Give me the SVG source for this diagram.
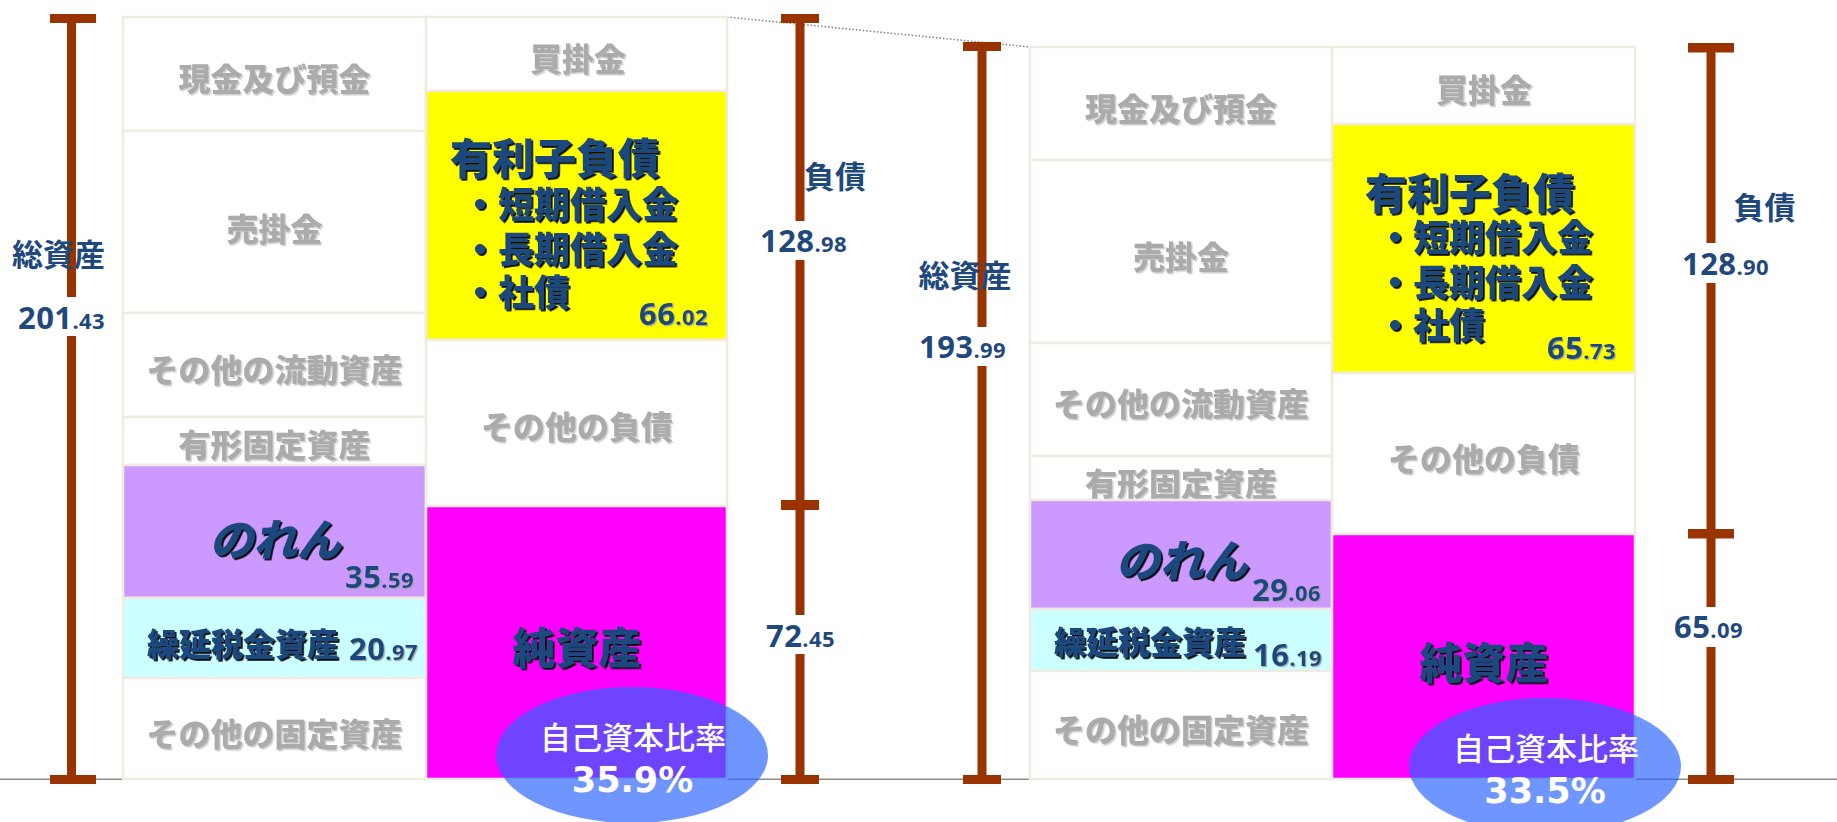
<svg xmlns="http://www.w3.org/2000/svg" width="1837" height="822" viewBox="0 0 1837 822">
<style>
.cell{stroke:#EEECE1;stroke-width:2.5}
.w{fill:#FFFFFF}
.gw{fill:#CC99FF}
.dt{fill:#CCFFFF}
.ib{fill:#FFFF00}
.eq{fill:#FF00FF}
.bar{fill:#993300}
.lbl{font-family:"Noto Sans CJK JP","Noto Sans",sans-serif;font-weight:900;font-size:32px;fill:#ABABAB;text-anchor:middle;dominant-baseline:central}
.key{font-family:"Noto Sans CJK JP","Noto Sans",sans-serif;font-weight:900;fill:#1F497D;dominant-baseline:central}
.num{font-family:"Open Sans",Lato,sans-serif;font-weight:700;fill:#1F497D;font-size:31px;letter-spacing:0.4px}
.dec{font-size:22px}
.ttl{font-family:"Noto Sans CJK JP","Noto Sans",sans-serif;font-weight:700;font-size:31px;fill:#1F497D;text-anchor:middle;dominant-baseline:central}
.ell{fill:rgb(43,100,255);fill-opacity:0.68}
.rt{font-family:"Noto Sans CJK JP","Noto Sans",sans-serif;font-weight:500;font-size:31px;fill:#FFFFFF;text-anchor:middle;dominant-baseline:central}
.rp{font-family:"DejaVu Sans","Noto Sans",sans-serif;font-weight:700;font-size:35px;fill:#FFFFFF;text-anchor:middle}
</style>
<defs>
<filter id="shd" x="-10%" y="-20%" width="130%" height="150%"><feDropShadow dx="1.8" dy="1.8" stdDeviation="0.4" flood-color="#000000" flood-opacity="0.95"/></filter>
<filter id="shg" x="-10%" y="-20%" width="130%" height="150%"><feDropShadow dx="1.5" dy="1.5" stdDeviation="0.6" flood-color="#CFCFCF" flood-opacity="1"/></filter>
<filter id="shn" x="-10%" y="-20%" width="130%" height="150%"><feDropShadow dx="1.2" dy="1.2" stdDeviation="0.5" flood-color="#A0A0A0" flood-opacity="0.9"/></filter>
</defs>
<rect width="1837" height="822" fill="#FFFFFF"/>

<g id="connectors">
<line x1="727" y1="17" x2="1030" y2="47" stroke="#808080" stroke-width="1.5" stroke-dasharray="1.5 2"/>
<line x1="0" y1="779.3" x2="1837" y2="779.3" stroke="#8C8C8C" stroke-width="1.6"/>
</g>

<!-- Left balance sheet -->
<g id="left-genkin"><rect class="cell w" x="123" y="17" width="303" height="114"/><text class="lbl" x="274.5" y="77" filter="url(#shg)">現金及び預金</text></g>
<g id="left-urikake"><rect class="cell w" x="123" y="131" width="303" height="182"/><text class="lbl" x="274.5" y="227" filter="url(#shg)">売掛金</text></g>
<g id="left-ryudo"><rect class="cell w" x="123" y="313" width="303" height="104"/><text class="lbl" x="274.5" y="368" filter="url(#shg)">その他の流動資産</text></g>
<g id="left-yukei"><rect class="cell w" x="123" y="417" width="303" height="48"/><text class="lbl" x="274.5" y="443" filter="url(#shg)">有形固定資産</text></g>
<g id="left-noren"><rect class="cell gw" x="123" y="465" width="303" height="133"/><text class="key" x="275" y="537" font-size="44" font-style="italic" text-anchor="middle" filter="url(#shd)">のれん</text><text class="num" x="345" y="588" filter="url(#shn)">35<tspan class="dec">.59</tspan></text></g>
<g id="left-kurinobe"><rect class="cell dt" x="123" y="598" width="303" height="80"/><text class="key" x="243" y="642" font-size="32" text-anchor="middle" filter="url(#shd)">繰延税金資産</text><text class="num" x="349" y="660" filter="url(#shn)">20<tspan class="dec">.97</tspan></text></g>
<g id="left-kotei"><rect class="cell w" x="123" y="678" width="303" height="101"/><text class="lbl" x="274.5" y="732" filter="url(#shg)">その他の固定資産</text></g>

<g id="left-kaikake"><rect class="cell w" x="426" y="17" width="301" height="74"/><text class="lbl" x="578" y="57" filter="url(#shg)">買掛金</text></g>
<g id="left-yurishi"><rect class="cell ib" x="426" y="91" width="301" height="249"/>
<text class="key" x="450" y="155" font-size="42" filter="url(#shd)">有利子負債</text>
<text class="key" x="462" y="201.7" font-size="36" filter="url(#shd)">・短期借入金</text>
<text class="key" x="462" y="246.7" font-size="36" filter="url(#shd)">・長期借入金</text>
<text class="key" x="462" y="290" font-size="36" filter="url(#shd)">・社債</text>
<text class="num" x="639" y="325" filter="url(#shn)">66<tspan class="dec">.02</tspan></text></g>
<g id="left-sonota-fusai"><rect class="cell w" x="426" y="340" width="301" height="166"/><text class="lbl" x="577" y="425" filter="url(#shg)">その他の負債</text></g>
<g id="left-junshisan"><rect class="cell eq" x="426" y="506" width="301" height="273"/><text class="key" x="577" y="645" font-size="43" text-anchor="middle" filter="url(#shd)">純資産</text></g>

<!-- Right balance sheet -->
<g id="right-genkin"><rect class="cell w" x="1030" y="47" width="302" height="113"/><text class="lbl" x="1181" y="106.7" filter="url(#shg)">現金及び預金</text></g>
<g id="right-urikake"><rect class="cell w" x="1030" y="160" width="302" height="183"/><text class="lbl" x="1181" y="255" filter="url(#shg)">売掛金</text></g>
<g id="right-ryudo"><rect class="cell w" x="1030" y="343" width="302" height="113"/><text class="lbl" x="1181" y="402" filter="url(#shg)">その他の流動資産</text></g>
<g id="right-yukei"><rect class="cell w" x="1030" y="456" width="302" height="44"/><text class="lbl" x="1181" y="481.7" filter="url(#shg)">有形固定資産</text></g>
<g id="right-noren"><rect class="cell gw" x="1030" y="500" width="302" height="109"/><text class="key" x="1181.5" y="558" font-size="44" font-style="italic" text-anchor="middle" filter="url(#shd)">のれん</text><text class="num" x="1252" y="601" filter="url(#shn)">29<tspan class="dec">.06</tspan></text></g>
<g id="right-kurinobe"><rect class="cell dt" x="1030" y="609" width="302" height="62"/><text class="key" x="1150" y="640" font-size="32" text-anchor="middle" filter="url(#shd)">繰延税金資産</text><text class="num" x="1253" y="665.7" filter="url(#shn)">16<tspan class="dec">.19</tspan></text></g>
<g id="right-kotei"><rect class="cell w" x="1030" y="671" width="302" height="108"/><text class="lbl" x="1181" y="728.3" filter="url(#shg)">その他の固定資産</text></g>

<g id="right-kaikake"><rect class="cell w" x="1332" y="47" width="303" height="77"/><text class="lbl" x="1484" y="88" filter="url(#shg)">買掛金</text></g>
<g id="right-yurishi"><rect class="cell ib" x="1332" y="124" width="303" height="249"/>
<text class="key" x="1365" y="190" font-size="42" filter="url(#shd)">有利子負債</text>
<text class="key" x="1377" y="235" font-size="36" filter="url(#shd)">・短期借入金</text>
<text class="key" x="1377" y="280" font-size="36" filter="url(#shd)">・長期借入金</text>
<text class="key" x="1377" y="323" font-size="36" filter="url(#shd)">・社債</text>
<text class="num" x="1547" y="359" filter="url(#shn)">65<tspan class="dec">.73</tspan></text></g>
<g id="right-sonota-fusai"><rect class="cell w" x="1332" y="373" width="303" height="161"/><text class="lbl" x="1484" y="456.7" filter="url(#shg)">その他の負債</text></g>
<g id="right-junshisan"><rect class="cell eq" x="1332" y="534" width="303" height="245"/><text class="key" x="1484" y="660" font-size="43" text-anchor="middle" filter="url(#shd)">純資産</text></g>

<!-- Dimension bars -->
<g id="left-total-bar">
<rect class="bar" x="50" y="14" width="46" height="9"/>
<rect class="bar" x="67" y="23" width="9" height="274"/>
<rect class="bar" x="67" y="336" width="9" height="440"/>
<rect class="bar" x="50" y="775" width="46" height="9"/>
<text class="ttl" x="58.5" y="252">総資産</text>
<text class="num" x="18" y="329" font-size="32">201<tspan class="dec" font-size="23">.43</tspan></text>
</g>
<g id="left-liab-bar">
<rect class="bar" x="781" y="14" width="38" height="9"/>
<rect class="bar" x="795.5" y="23" width="9" height="198"/>
<rect class="bar" x="795.5" y="260" width="9" height="241"/>
<rect class="bar" x="781" y="500" width="38" height="10"/>
<rect class="bar" x="795.5" y="509" width="9" height="106"/>
<rect class="bar" x="795.5" y="654" width="9" height="122"/>
<rect class="bar" x="781" y="775" width="38" height="9"/>
<text class="ttl" x="835" y="174.5">負債</text>
<text class="num" x="760" y="252">128<tspan class="dec">.98</tspan></text>
<text class="num" x="766" y="646.7">72<tspan class="dec">.45</tspan></text>
</g>
<g id="right-total-bar">
<rect class="bar" x="963" y="42" width="38" height="9"/>
<rect class="bar" x="977.5" y="51" width="9" height="276"/>
<rect class="bar" x="977.5" y="366" width="9" height="410"/>
<rect class="bar" x="963" y="775" width="38" height="9"/>
<text class="ttl" x="965" y="273">総資産</text>
<text class="num" x="919" y="358">193<tspan class="dec">.99</tspan></text>
</g>
<g id="right-liab-bar">
<rect class="bar" x="1688" y="43" width="46" height="9.5"/>
<rect class="bar" x="1706.5" y="52" width="9" height="191"/>
<rect class="bar" x="1706.5" y="283" width="9" height="247"/>
<rect class="bar" x="1688" y="529" width="46" height="9.5"/>
<rect class="bar" x="1706.5" y="538" width="9" height="69"/>
<rect class="bar" x="1706.5" y="647" width="9" height="129"/>
<rect class="bar" x="1688" y="775" width="46" height="9"/>
<text class="ttl" x="1764.5" y="205">負債</text>
<text class="num" x="1682" y="275">128<tspan class="dec">.90</tspan></text>
<text class="num" x="1674" y="637.7">65<tspan class="dec">.09</tspan></text>
</g>

<!-- Equity ratio bubbles -->
<g id="left-ratio">
<ellipse class="ell" cx="632" cy="755" rx="136" ry="68"/>
<text class="rt" x="633" y="735">自己資本比率</text>
<text class="rp" x="632.5" y="791.7">35.9%</text>
</g>
<g id="right-ratio">
<ellipse class="ell" cx="1545" cy="766" rx="136" ry="68"/>
<text class="rt" x="1546" y="746.7">自己資本比率</text>
<text class="rp" x="1545" y="803">33.5%</text>
</g>
</svg>
